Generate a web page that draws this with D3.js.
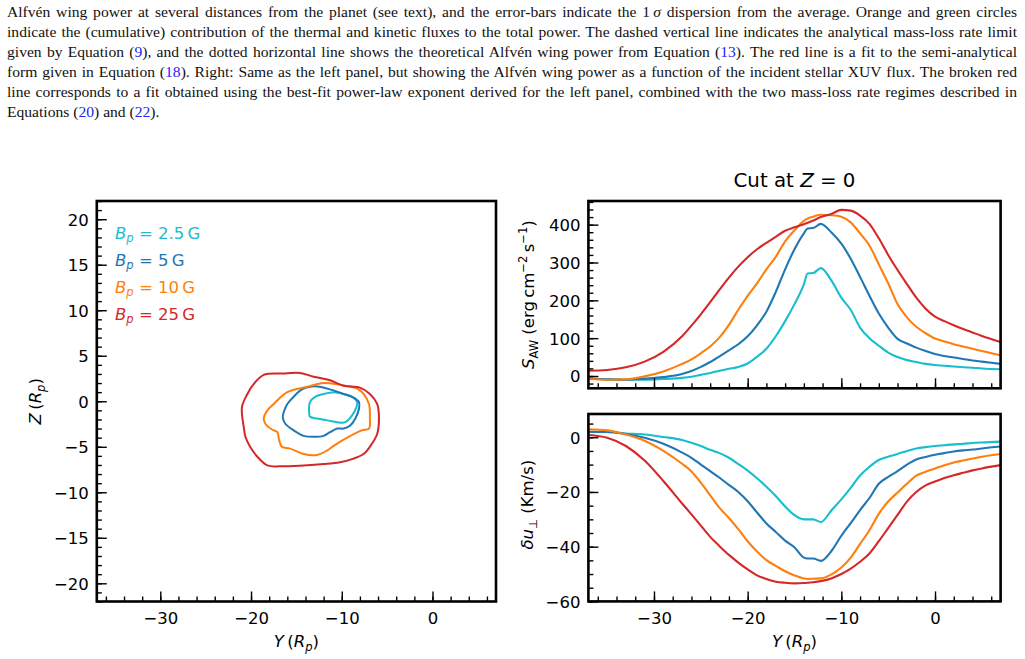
<!DOCTYPE html>
<meta charset="utf-8">
<title>Alfvén wing cut at Z = 0</title>
<script src="https://d3js.org/d3.v7.min.js"></script>

<style>

body {
  margin: 0;
  background: #fff;
}

#caption {
  position: absolute;
  left: 7px;
  top: 2px;
  width: 1010px;
  font-family: "Liberation Serif", serif;
  font-size: 15.6px;
  line-height: 20px;
  color: #111;
}

#caption div {
  text-align: justify;
  text-align-last: justify;
}

#caption div.last {
  text-align-last: left;
}

#caption a {
  color: #2323f5;
  text-decoration: none;
}

#fig {
  position: absolute;
  left: 0;
  top: 0;
}

</style>
<body>

<div id="caption">
  <div>Alfvén wing power at several distances from the planet (see text), and the error-bars indicate the 1&#8201;<i>σ</i> dispersion from the average. Orange and green circles</div>
  <div>indicate the (cumulative) contribution of the thermal and kinetic fluxes to the total power. The dashed vertical line indicates the analytical mass-loss rate limit</div>
  <div>given by Equation (<a>9</a>), and the dotted horizontal line shows the theoretical Alfvén wing power from Equation (<a>13</a>). The red line is a fit to the semi-analytical</div>
  <div>form given in Equation (<a>18</a>). Right: Same as the left panel, but showing the Alfvén wing power as a function of the incident stellar XUV flux. The broken red</div>
  <div>line corresponds to a fit obtained using the best-fit power-law exponent derived for the left panel, combined with the two mass-loss rate regimes described in</div>
  <div class="last">Equations (<a>20</a>) and (<a>22</a>).</div>
</div>

<svg id="fig" width="1025" height="659"></svg>

<script>

// Y positions (R_p) of the cut samples
var yGrid = [-37, -35, -33, -31, -29, -27, -26, -25, -24, -23, -22, -21, -20, -19, -18, -17, -16, -15, -14, -13.6,
  -13, -12.2, -11, -10, -9, -8, -7, -6, -5, -4, -3, -2, -1, 0, 1, 2, 3, 4, 5, 7];

// S_AW (erg cm^-2 s^-1)
var sawCyan = [-6, -9, -10, -10, -8, -5, -2, 3, 8, 14, 19, 24, 33, 51, 72, 105, 145, 190, 242, 271,
  272, 285, 250, 207, 175, 128, 100, 80, 62, 50, 42, 37, 32, 29, 27, 25, 23, 22, 20, 18];
var sawBlue = [-6, -9, -10, -7, -3, 5, 13, 24, 37, 52, 68, 84, 105, 134, 170, 222, 282, 335, 377, 390,
  391, 402, 378, 350, 310, 262, 212, 165, 128, 98, 86, 75, 66, 58, 53, 49, 45, 41, 38, 32];
var sawOrange = [-8, -10, -9, -1, 12, 32, 44, 60, 78, 102, 135, 175, 212, 245, 282, 315, 356, 385, 410, 416,
  421, 426, 425, 421, 406, 377, 345, 295, 245, 190, 155, 130, 113, 99, 91, 84, 78, 72, 66, 55];
var sawRed = [14, 16, 23, 38, 64, 105, 133, 163, 195, 228, 260, 289, 314, 335, 352, 368, 384, 393, 401, 405,
  411, 420, 429, 439, 437, 424, 402, 364, 320, 280, 243, 207, 178, 157, 145, 134, 124, 115, 106, 90];

// delta u_perp (km/s)
var duCyan = [2, 1.9, 1.4, 1, 0.1, -1, -2, -3.2, -4.6, -5.8, -7.5, -9.8, -12.2, -15, -18.1, -21.5, -25.3, -28.5, -30, -30,
  -30, -31, -26.5, -22.7, -18.5, -14, -10.8, -8.3, -7.1, -6.1, -5, -4.1, -3.6, -3.2, -2.9, -2.6, -2.4, -2.1, -1.9, -1.6];
var duBlue = [2, 1.9, 1.2, -0.2, -2.4, -5.6, -7.5, -10, -12.4, -14.8, -17.4, -20, -23.4, -27.5, -31.5, -34.6, -37.8, -40.3, -44, -44.3,
  -44.3, -45.2, -41.3, -36, -31.4, -26.6, -22.2, -17, -14.5, -12.4, -10, -8.1, -7.2, -6.4, -5.8, -5.2, -4.8, -4.5, -4.1, -3.4];
var duOrange = [2.9, 2.5, 1, -1.3, -5, -9.7, -12.5, -16.6, -21.2, -25.8, -29.5, -33.6, -38, -41.8, -44.9, -47, -49, -50.5, -51.6, -51.8,
  -51.7, -51.6, -50, -47.6, -44, -39, -34, -28, -23.5, -20.2, -17, -14, -12.6, -11.4, -10.2, -9.2, -8.5, -7.8, -7.1, -6.1];
var duRed = [0.8, -0.2, -3.2, -8.5, -16, -24.2, -28.2, -32.3, -36.4, -39.8, -43, -45.8, -48.3, -50.5, -51.8, -52.8, -53.2, -53.4, -53.3, -53.2,
  -53, -52.6, -51.5, -50, -48, -45.5, -42.5, -38, -33.2, -28.4, -23.5, -20, -17.6, -16.2, -14.9, -13.9, -13, -12.1, -11.4, -10.2];

// contour outlines in the (Y, Z) plane, one per field strength
var contour2p5 = [[-13.6, -1.2], [-13.5, -0.1], [-12.9, 0.5], [-12.0, 0.8], [-10.9, 1.0], [-9.8, 0.8], [-8.9, 0.5], [-8.3, -0.1],
  [-8.4, -0.7], [-8.9, -1.6], [-9.6, -2.3], [-10.5, -2.3], [-11.6, -2.1], [-12.7, -1.9], [-13.5, -1.7]];
var contour5 = [[-16.4, -1.2], [-16.0, -0.3], [-15.3, 0.5], [-14.4, 1.3], [-13.5, 1.6], [-12.4, 1.6], [-11.3, 1.3], [-9.8, 0.8],
  [-8.7, 0.4], [-8.1, -0.1], [-8.1, -0.8], [-8.5, -1.9], [-9.1, -2.7], [-9.8, -3.0], [-10.5, -3.0], [-11.3, -3.4],
  [-12.0, -3.8], [-13.1, -3.9], [-14.2, -3.8], [-15.3, -3.2], [-16.2, -2.5], [-16.5, -1.8]];
var contour10 = [[-18.6, -1.9], [-18.2, -1.0], [-17.5, -0.3], [-16.0, 1.0], [-13.8, 1.6], [-12.0, 2.0], [-10.2, 1.8], [-8.3, 1.4],
  [-7.6, 0.8], [-7.0, -0.3], [-6.9, -1.8], [-7.0, -3.0], [-7.8, -3.2], [-9.4, -4.0], [-10.9, -4.9], [-11.6, -5.4],
  [-12.7, -5.9], [-14.2, -5.8], [-15.7, -5.2], [-16.6, -5.0], [-16.9, -4.3], [-17.1, -3.4], [-17.7, -3.1], [-18.4, -2.5]];
var contour25 = [[-18.6, 2.9], [-16.5, 3.05], [-14.6, 3.1], [-13.1, 2.7], [-11.3, 2.3], [-9.8, 1.7], [-8.0, 1.5], [-6.9, 0.8],
  [-6.1, -0.3], [-5.9, -1.75], [-6.1, -3.6], [-6.9, -5.0], [-7.6, -5.8], [-8.7, -6.3], [-10.2, -6.7], [-12.0, -6.9],
  [-14.2, -7.05], [-16.8, -7.15], [-18.2, -7.05], [-19.3, -6.1], [-20.1, -5.0], [-20.6, -3.95], [-20.8, -2.85],
  [-21.0, -0.65], [-20.4, 0.8], [-19.7, 1.9]];

var fieldLabels = ["2.5", "5", "10", "25"];
var colors = ["#17becf", "#1f77b4", "#ff7f0e", "#d62728"];

var xTicks = [-30, -20, -10, 0];
var zTicks = [-20, -15, -10, -5, 0, 5, 10, 15, 20];
var sawTicks = [0, 100, 200, 300, 400];
var duTicks = [-60, -40, -20, 0];

var font = "DejaVu Sans",
    fs = 16.5;

var svg = d3.select("#fig");

var boxL = {x0: 96.8, x1: 496, y0: 201, y1: 601.5},
    boxT = {x0: 588.4, x1: 1000.6, y0: 201, y1: 388.3},
    boxB = {x0: 588.4, x1: 1000.6, y0: 414, y1: 601.4};

var xL = d3.scaleLinear().domain([-37, 7]).range([boxL.x0, boxL.x1]),
    zL = d3.scaleLinear().domain([-22, 22]).range([boxL.y1, boxL.y0]),
    xR = d3.scaleLinear().domain([-37, 7]).range([boxT.x0, boxT.x1]),
    yT = d3.scaleLinear().domain([-32.5, 462.5]).range([boxT.y1, boxT.y0]),
    yB = d3.scaleLinear().domain([-60, 8.5]).range([boxB.y1, boxB.y0]);

function addAxis(axisFn, scale, translate, values, size, pad, labelled) {
  var g = svg.append("g")
    .attr("transform", translate)
    .call(axisFn(scale)
      .tickValues(values)
      .tickSize(-size)
      .tickPadding(pad)
      .tickFormat(labelled ? d3.format("d") : ""));
  g.select(".domain").remove();
  g.selectAll("line").attr("stroke", "#000").attr("stroke-width", 1.4);
  g.selectAll("text")
    .attr("font-family", font)
    .attr("font-size", fs)
    .attr("fill", "#000");
  return g;
}

function panelAxes(box, xs, ys, yMajor, yMinor, xLabels) {
  addAxis(d3.axisBottom, xs, "translate(0," + box.y1 + ")", d3.range(-36, 8, 2), 5, 10.5, false);
  addAxis(d3.axisBottom, xs, "translate(0," + box.y1 + ")", xTicks, 10, 10.5, xLabels);
  addAxis(d3.axisLeft, ys, "translate(" + box.x0 + ",0)", yMinor, 5, 8, false);
  addAxis(d3.axisLeft, ys, "translate(" + box.x0 + ",0)", yMajor, 10, 8, true)
    .selectAll("text").attr("dy", "0.36em");
}

function frame(box) {
  svg.append("rect")
    .attr("x", box.x0)
    .attr("y", box.y0)
    .attr("width", box.x1 - box.x0)
    .attr("height", box.y1 - box.y0)
    .attr("fill", "none")
    .attr("stroke", "#000")
    .attr("stroke-width", 2.6);
}

// mathtext-like label: parts with italic / sub / sup flags
function richText(x, y, parts, opts) {
  opts = opts || {};
  var size = opts.size || fs;
  var t = svg.append("text")
    .attr("font-family", font)
    .attr("font-size", size)
    .attr("fill", opts.color || "#000")
    .attr("text-anchor", opts.anchor || "start")
    .style("white-space", "pre")
    .attr("transform", "translate(" + x + "," + y + ")" + (opts.rotate ? " rotate(-90)" : ""));
  var shift = 0;
  parts.forEach(function(p) {
    var s = p.sub ? 0.22 * size : p.sup ? -0.42 * size : 0;
    t.append("tspan")
      .attr("dy", s - shift)
      .attr("font-size", p.sub || p.sup ? size * 0.7 : size)
      .attr("font-style", p.it ? "italic" : null)
      .text(p.t);
    shift = s;
  });
  return t;
}

// ---- left panel: contours ----
var contourLine = d3.line()
  .x(function(d) { return xL(d[0]); })
  .y(function(d) { return zL(d[1]); })
  .curve(d3.curveCatmullRomClosed.alpha(0.5));

[contour2p5, contour5, contour10, contour25].forEach(function(c, i) {
  svg.append("path")
    .attr("d", contourLine(c))
    .attr("fill", "none")
    .attr("stroke", colors[i])
    .attr("stroke-width", 2);
});

panelAxes(boxL, xL, zL, zTicks, d3.range(-22, 23, 1), true);
frame(boxL);

fieldLabels.forEach(function(f, i) {
  richText(115, 238.5 + i * 27, [
    {t: "B", it: true}, {t: "p", it: true, sub: true}, {t: " = " + f + "\u2009G"}
  ], {color: colors[i]});
});

richText(41, (boxL.y0 + boxL.y1) / 2, [
  {t: "Z", it: true}, {t: "\u2009("}, {t: "R", it: true}, {t: "p", it: true, sub: true}, {t: ")"}
], {anchor: "middle", rotate: true});

richText((boxL.x0 + boxL.x1) / 2, 647, [
  {t: "Y", it: true}, {t: "\u2009("}, {t: "R", it: true}, {t: "p", it: true, sub: true}, {t: ")"}
], {anchor: "middle"});

// ---- right panels: cuts ----
var cutLine = function(ys) {
  return d3.line()
    .x(function(d, i) { return xR(yGrid[i]); })
    .y(function(d) { return ys(d); })
    .curve(d3.curveMonotoneX);
};

[sawCyan, sawBlue, sawOrange, sawRed].forEach(function(s, i) {
  svg.append("path")
    .attr("d", cutLine(yT)(s))
    .attr("fill", "none")
    .attr("stroke", colors[i])
    .attr("stroke-width", 2.1);
});

[duCyan, duBlue, duOrange, duRed].forEach(function(s, i) {
  svg.append("path")
    .attr("d", cutLine(yB)(s))
    .attr("fill", "none")
    .attr("stroke", colors[i])
    .attr("stroke-width", 2.1);
});

// the top panel shares its x axis with the bottom one: no tick labels there
panelAxes(boxT, xR, yT, sawTicks, d3.range(-20, 461, 20), false);
panelAxes(boxB, xR, yB, duTicks, d3.range(-60, 6, 5), true);

frame(boxT);
frame(boxB);

richText((boxT.x0 + boxT.x1) / 2, 187, [
  {t: "Cut at "}, {t: "Z", it: true}, {t: " = 0"}
], {anchor: "middle", size: 19.8});

richText(534, (boxT.y0 + boxT.y1) / 2, [
  {t: "S", it: true}, {t: "AW", sub: true}, {t: " (erg\u2009cm"}, {t: "\u22122", sup: true},
  {t: "\u2009s"}, {t: "\u22121", sup: true}, {t: ")"}
], {anchor: "middle", rotate: true});

richText(533, (boxB.y0 + boxB.y1) / 2 - 3, [
  {t: "δu", it: true}, {t: "\u22a5", sub: true}, {t: " (Km/s)"}
], {anchor: "middle", rotate: true});

richText((boxB.x0 + boxB.x1) / 2, 647, [
  {t: "Y", it: true}, {t: "\u2009("}, {t: "R", it: true}, {t: "p", it: true, sub: true}, {t: ")"}
], {anchor: "middle"});

</script>
</body>
